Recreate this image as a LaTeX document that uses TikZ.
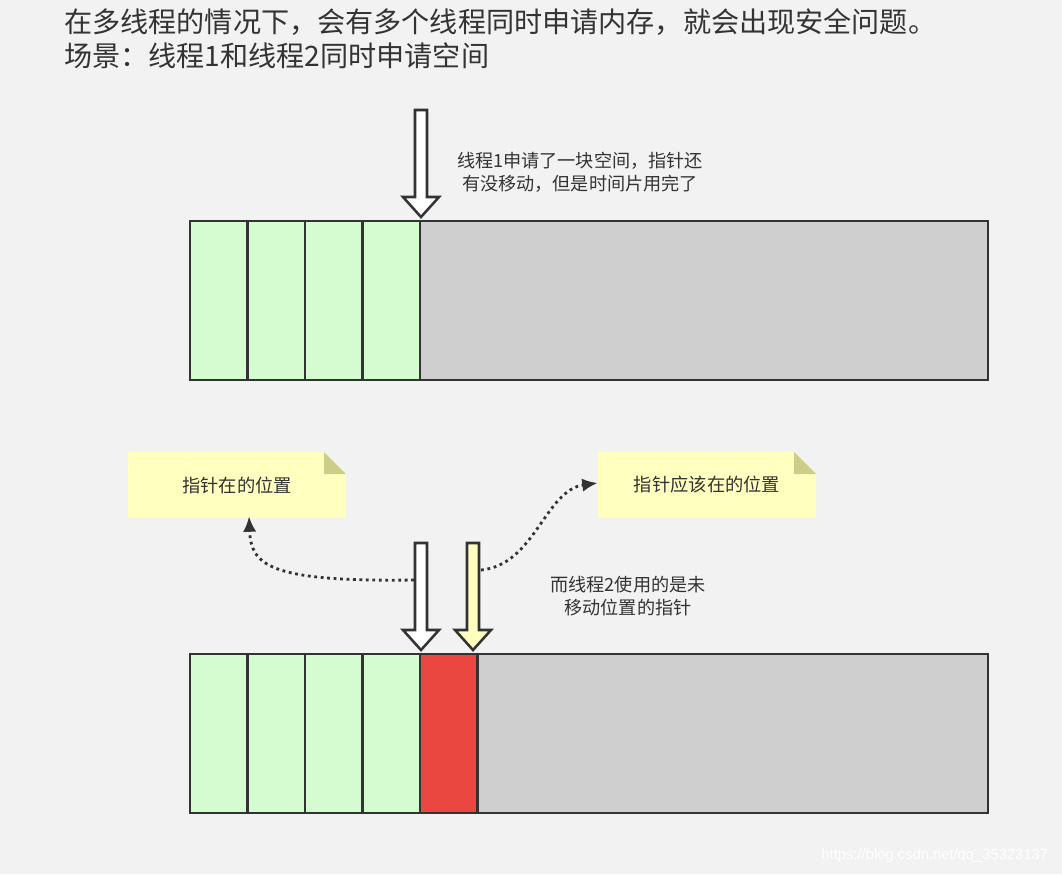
\documentclass[tikz,border=0pt]{standalone}
\usepackage{fontspec}
\newfontfamily\cjk{Noto Sans CJK SC}
\newfontfamily\wmfont{Liberation Sans}
\usetikzlibrary{arrows.meta}

\definecolor{pagebg}{HTML}{F2F2F2}
\definecolor{edgegray}{HTML}{333333}
\definecolor{usedgreen}{HTML}{D5FBD0}
\definecolor{freegray}{HTML}{CFCFCF}
\definecolor{clashred}{HTML}{E9473F}
\definecolor{notefill}{HTML}{FFFFC0}
\definecolor{notefold}{HTML}{CDCD8A}

\tikzset{
	cell/.style={draw=edgegray, line width=2.1pt},
	blockarrow/.style={draw=edgegray, line width=1.8pt, line join=miter},
	notetext/.style={font=\cjk\fontsize{13}{15}\selectfont, text=black!80},
	remark/.style={font=\cjk\fontsize{12.9}{16.5}\selectfont, text=black!80, align=center},
	pointsto/.style={draw=edgegray, line width=2pt, dash pattern=on 2pt off 2.6pt, -{Latex[length=11pt,width=9.5pt]}}
}

% block arrow: centre x, top y, tip y, fill
\newcommand{\blockarrow}[4]{
	\draw[blockarrow, fill=#4] (#1-6,#2) -- (#1+6,#2) -- (#1+6,#3-20) -- (#1+18,#3-20) -- (#1,#3) -- (#1-18,#3-20) -- (#1-6,#3-20) -- cycle;
}

% note with folded corner: name, centre x, centre y, text
\newcommand{\notebox}[4]{
	\fill[notefill] (#2-109,#3-33) -- (#2+87,#3-33) -- (#2+109,#3-11) -- (#2+109,#3+33) -- (#2-109,#3+33) -- cycle;
	\fill[notefold] (#2+87,#3-33) -- (#2+87,#3-11) -- (#2+109,#3-11) -- cycle;
	\node[notetext, minimum width=5.45cm, minimum height=1.65cm] (#1) at (#2,#3) {#4};
}

\begin{document}
\begin{tikzpicture}[x=0.025cm, y=-0.025cm]

	\pgfmathsetmacro{\barleft}{190}
	\pgfmathsetmacro{\barright}{988}
	\pgfmathsetmacro{\cellwidth}{57.5}
	\pgfmathsetmacro{\barheight}{159}
	\pgfmathsetmacro{\bargap}{433}

	% background
	\fill[pagebg] (0,0) rectangle (1062,874);
	\useasboundingbox (0,0) rectangle (1062,874);

	% heading
	\node[anchor=west, font=\cjk\fontsize{20}{23}\selectfont, text=black!80, inner sep=0pt] (headline) at (64,22) {在多线程的情况下，会有多个线程同时申请内存，就会出现安全问题。};
	\node[anchor=west, font=\cjk\fontsize{20}{23}\selectfont, text=black!80, inner sep=0pt] (scene) at (64,56) {场景：线程1和线程2同时申请空间};

	% draw first bar (thread 1)
	\begin{scope}[shift={(0,221)}]
		\fill[freegray] (\barleft,0) rectangle (\barright,\barheight);
		\foreach \i in {0, ..., 3}
		{
			\draw[cell, fill=usedgreen] ({\barleft + \i * \cellwidth}, 0) rectangle ++(\cellwidth, \barheight);
		}
		\draw[cell] (\barleft,0) rectangle (\barright,\barheight);
	\end{scope}

	% pointer of thread 1
	\blockarrow{421}{110}{217}{white}
	\node[remark] (firstnote) at (580,172) {线程1申请了一块空间，指针还\\有没移动，但是时间片用完了};

	% draw second bar (thread 2)
	\begin{scope}[shift={(0,221 + \bargap)}]
		\fill[freegray] (\barleft,0) rectangle (\barright,\barheight);
		\foreach \i in {0, ..., 3}
		{
			\draw[cell, fill=usedgreen] ({\barleft + \i * \cellwidth}, 0) rectangle ++(\cellwidth, \barheight);
		}
		\draw[cell, fill=clashred] ({\barleft + 4 * \cellwidth}, 0) rectangle ++(\cellwidth, \barheight); % taken twice
		\draw[cell] (\barleft,0) rectangle (\barright,\barheight);
	\end{scope}

	% old and new pointer
	\blockarrow{421}{543}{650}{white}
	\blockarrow{473}{543}{650}{notefill}
	\coordinate (oldptr) at (414,580);
	\coordinate (newptr) at (481,570);

	% notes
	\notebox{posnow}{237}{485}{指针在的位置}
	\notebox{posshould}{707}{485}{指针应该在的位置}

	\draw[pointsto] (oldptr) .. controls (268,582) and (251,565) .. ([xshift=0.3cm,yshift=0.05cm]posnow.south);
	\draw[pointsto] (newptr) .. controls (535,565) and (545,490) .. ([yshift=0.05cm]posshould.west);

	\node[remark] (secondnote) at (628,596) {而线程2使用的是未\\移动位置的指针};

	% watermark
	\node[anchor=east, font=\wmfont\fontsize{10.5}{12}\selectfont, text=white] (watermark) at (1053,856) {https://blog.csdn.net/qq\_35323137};

\end{tikzpicture}
\end{document}
